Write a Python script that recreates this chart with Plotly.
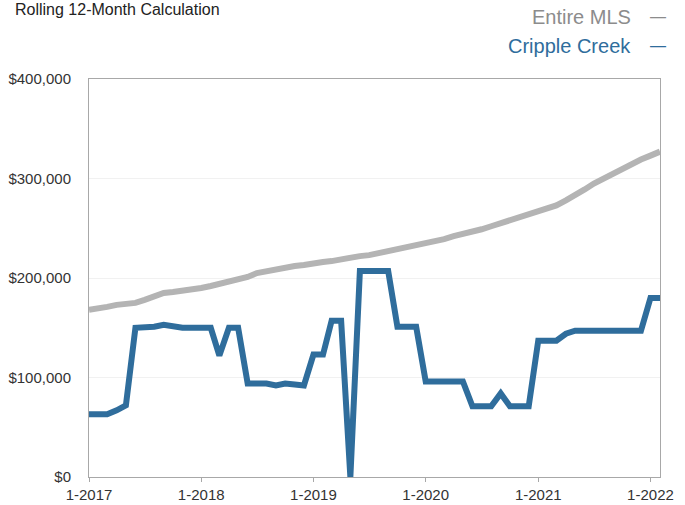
import plotly.graph_objects as go
import pandas as pd

# Monthly dates, Jan 2017 through Feb 2022
months = pd.date_range("2017-01-01", "2022-02-01", freq="MS")

# Rolling 12-month median sales price, in thousands of dollars
entire_mls = [
    168, 169, 171, 173, 174, 175, 178, 181, 185, 186, 187, 189,   # 2017
    190, 192, 194, 196, 198, 201, 205, 207, 209, 211, 212, 213,   # 2018
    215, 216, 217, 219, 220, 222, 223, 225, 226, 228, 230, 232,   # 2019
    234, 237, 239, 242, 244, 246, 249, 252, 255, 258, 261, 263,   # 2020
    266, 269, 273, 278, 283, 289, 295, 300, 305, 309, 314, 319,   # 2021
    323, 327,                                                     # 2022
]
cripple_creek = [
    63, 63, 63, 67, 72, 150, 150, 151, 153, 151, 150, 150,        # 2017
    150, 150, 122, 150, 150, 94, 94, 94, 92, 94, 93, 92,          # 2018
    123, 123, 157, 157, 0, 207, 207, 207, 207, 151, 151, 151,     # 2019
    96, 96, 96, 96, 96, 71, 71, 71, 84, 71, 71, 71,               # 2020
    137, 137, 137, 144, 147, 147, 147, 147, 147, 147, 147, 147,   # 2021
    180, 180,                                                     # 2022
]

tick_dates = ["2017-01-01", "2018-01-01", "2019-01-01", "2020-01-01", "2021-01-01", "2022-01-01"]
tick_labels = ["1-2017", "1-2018", "1-2019", "1-2020", "1-2021", "1-2022"]
y_ticks = [0, 100000, 200000, 300000, 400000]
y_labels = ["$0", "$100,000", "$200,000", "$300,000", "$400,000"]

GRAY = "#b4b4b4"
BLUE = "#2f6d9c"
FONT = "Liberation Sans, Arial, sans-serif"

fig = go.Figure()
fig.add_trace(go.Scatter(
    x=months, y=[v * 1000 for v in entire_mls], mode="lines",
    line=dict(color=GRAY, width=6), name="Entire MLS", showlegend=False,
))
fig.add_trace(go.Scatter(
    x=months, y=[v * 1000 for v in cripple_creek], mode="lines",
    line=dict(color=BLUE, width=6), name="Cripple Creek", showlegend=False,
))

legend_font = dict(family=FONT, size=20)

fig.update_layout(
    width=685, height=505,
    margin=dict(l=89, r=25, t=79, b=28),
    paper_bgcolor="white", plot_bgcolor="white",
    font=dict(family=FONT, size=15, color="#333333"),
    xaxis=dict(
        range=["2017-01-01", "2022-02-01"],
        tickvals=tick_dates, ticktext=tick_labels,
        showgrid=False, showline=True, mirror=True,
        linecolor="#a8a8a8", linewidth=1,
        ticks="outside", ticklen=4, tickcolor="#a8a8a8",
        ticklabelstandoff=0,
        tickfont=dict(size=15, color="#333333"),
        zeroline=False, automargin=False,
    ),
    yaxis=dict(
        range=[0, 400000],
        tickvals=y_ticks, ticktext=y_labels,
        showgrid=True, gridcolor="#f1f1f1", gridwidth=1,
        showline=True, mirror=True, linecolor="#a8a8a8", linewidth=1,
        ticks="", ticklabelstandoff=14,
        tickfont=dict(size=15, color="#333333"),
        zeroline=False, automargin=False,
    ),
    annotations=[
        dict(text="Rolling 12-Month Calculation", xref="paper", yref="paper",
             x=-0.133, y=1.2, xanchor="left", yanchor="top",
             showarrow=False, font=dict(family=FONT, size=16, color="#222222")),
        dict(text="Entire MLS", xref="paper", yref="paper",
             x=0.953, y=1.156, xanchor="right", yanchor="middle",
             showarrow=False, font=dict(legend_font, color="#8c8c8c")),
        dict(text="—", xref="paper", yref="paper",
             x=0.979, y=1.156, xanchor="left", yanchor="middle",
             showarrow=False, font=dict(legend_font, size=16, color="#8c8c8c")),
        dict(text="Cripple Creek", xref="paper", yref="paper",
             x=0.953, y=1.083, xanchor="right", yanchor="middle",
             showarrow=False, font=dict(legend_font, color=BLUE)),
        dict(text="—", xref="paper", yref="paper",
             x=0.979, y=1.083, xanchor="left", yanchor="middle",
             showarrow=False, font=dict(legend_font, size=16, color=BLUE)),
    ],
)

fig.write_html("out.html")
